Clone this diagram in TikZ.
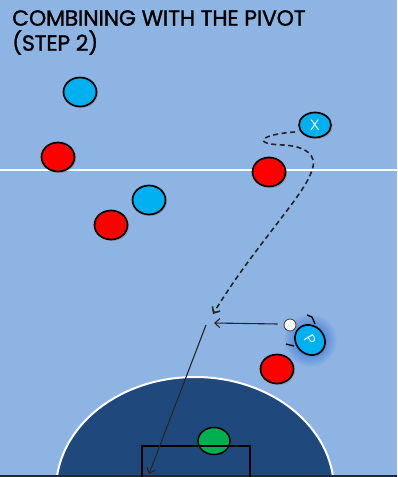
\documentclass[tikz,border=0pt]{standalone}
\usepackage{fontspec}
\newfontfamily\titlefont{Poppins}[LetterSpace=-1, FakeBold=1.2]
\usetikzlibrary{shapes.geometric,shadows,arrows.meta,fadings}
\definecolor{court}{HTML}{8EB4E3}
\definecolor{area}{HTML}{1F497D}
\definecolor{teamred}{HTML}{FF0000}
\definecolor{teamblue}{HTML}{00B0F0}
\definecolor{keeper}{HTML}{00B050}
\definecolor{edge}{HTML}{1B2A3A}
\definecolor{glow}{HTML}{1560D8}
\tikzfading[name=glowfade, inner color=transparent!0, outer color=transparent!100]
\tikzset{
  player/.style={ellipse, draw=black, line width=1.7pt, minimum width=33pt,
    minimum height=29pt, inner sep=0pt,
    drop shadow={shadow xshift=1.5pt, shadow yshift=-1.5pt, opacity=0.45}},
  redp/.style={player, fill=teamred},
  bluep/.style={player, fill=teamblue, text=white, font=\sffamily\fontsize{15}{15}\selectfont},
  run/.style={black!85, line width=1.6pt, dash pattern=on 5pt off 3.5pt, -{Straight Barb[length=5pt,width=9pt]}},
  pass/.style={black!85, line width=1.1pt, -{Straight Barb[length=5pt,width=9pt]}},
}
\begin{document}
\begin{tikzpicture}[x=1pt,y=-1pt]
  % court
  \fill[court] (0,0) rectangle (397,477);
  \useasboundingbox (0,0) rectangle (397,477);
  \draw[white, line width=2pt] (0,170) -- (397,170);
  % penalty area
  \begin{scope}
    \clip (0,0) rectangle (397,476);
    \fill[area] (195,490) ellipse [x radius=139, y radius=113];
    \draw[white, line width=2pt] (195,490) ellipse [x radius=139, y radius=113];
  \end{scope}
  \draw[edge, line width=2.5pt] (0,476) -- (397,476);
  % goalkeeper and goal
  \node[ellipse, draw=black, line width=1.5pt, fill=keeper, minimum width=32pt,
        minimum height=27pt, inner sep=0pt] (gk) at (214,441) {};
  \draw[black, line width=1.8pt] (142,477) -- (142,446) -- (250,446) -- (250,477);
  % title
  \node[anchor=north west, inner sep=0pt, align=left, font=\titlefont\fontsize{22}{25}\selectfont]
    (title) at (12,10) {COMBINING WITH THE PIVOT\\(STEP 2)};
  % players
  \node[bluep] (b1) at (80,92) {};
  \node[redp] (r1) at (58,157) {};
  \node[bluep] (b2) at (149,200) {};
  \node[redp] (r2) at (111,225) {};
  \node[redp] (r3) at (269,172) {};
  \node[bluep, minimum width=32pt, minimum height=25pt] (x) at (315,125) {X};
  \node[redp] (r4) at (277,369) {};
  % pivot with glow
  \fill[glow, path fading=glowfade] (310,340) circle (27);
  \node[bluep, rotate=-45, minimum width=32pt, minimum height=28pt] (p) at (310,340) {};
  \node[text=white, font=\sffamily\fontsize{15}{15}\selectfont, rotate=-60] (plabel) at (p.center) {P};
  \draw[black, line width=1.3pt] (307,315) -- (312,317) -- (315,324);
  \draw[black, line width=1.3pt] (286,344) -- (294,346);
  % ball
  \node[circle, draw=black!70, line width=0.9pt, fill=white, minimum size=12pt, inner sep=0pt] (ball) at (290,325) {};
  % movement and passes
  \coordinate (runstart) at (295,132);
  \coordinate (runend) at (213,314);
  \coordinate (passend) at (214,323);
  \coordinate (shotstart) at (206,325);
  \coordinate (shotend) at (149,474);
  \draw[run] (runstart) .. controls (262,134) and (250,144) .. (283,145)
    .. controls (305,146) and (318,155) .. (312,170)
    .. controls (305,195) and (255,245) .. (runend);
  \draw[pass] (ball.west) ++(-6,-1) -- (passend);
  \draw[pass] (shotstart) -- (shotend);
\end{tikzpicture}
\end{document}
